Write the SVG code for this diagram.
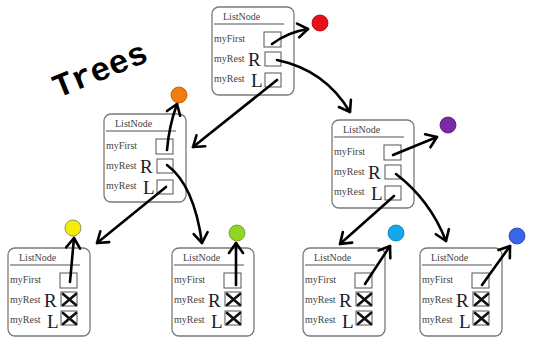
<svg xmlns="http://www.w3.org/2000/svg" width="533" height="337" viewBox="0 0 533 337">
<style>
.frame{fill:#fff;stroke:#7a7a7a;stroke-width:1.3}
.sep{stroke:#8a8a8a;stroke-width:1.6}
.cell{fill:#fff;stroke:#555;stroke-width:1}
.t{fill:#444;font-size:10px}
.big{fill:#1a1a2a;font-size:19px}
.x{stroke:#111;stroke-width:2.6;stroke-linecap:round}
.conn{fill:none;stroke:#000;stroke-width:2.6;stroke-linecap:round}
.dot{stroke-width:0.8}
</style>
<defs>
<marker id="ah" markerUnits="userSpaceOnUse" markerWidth="20" markerHeight="20" viewBox="-12 -10 14 20" refX="0" refY="0" orient="auto">
<path d="M-10,-7 L0,0 L-10,7" fill="none" stroke="#000" stroke-width="2.6" stroke-linecap="round" stroke-linejoin="round"/>
</marker>
<g id="body" font-family="'Liberation Serif', 'Times New Roman', serif">
<rect class="frame" x="0" y="0" width="82" height="88" rx="7"/>
<line class="sep" x1="2" y1="17" x2="72" y2="17"/>
<text class="t" x="11" y="13" font-family="Liberation Serif, serif">ListNode</text>
<text class="t" x="2" y="35" font-family="Liberation Serif, serif">myFirst</text>
<text class="t" x="2" y="55" font-family="Liberation Serif, serif">myRest</text>
<text class="big" x="36" y="59" font-family="Liberation Serif, serif">R</text>
<text class="t" x="2" y="75" font-family="Liberation Serif, serif">myRest</text>
<text class="big" x="39" y="80" font-family="Liberation Serif, serif">L</text>
<rect class="cell" x="52" y="25" width="17" height="15"/>
</g>
<g id="inner">
<rect class="cell" x="53" y="45" width="16" height="14"/>
<rect class="cell" x="53" y="66" width="16" height="14"/>
</g>
<g id="leaf">
<rect class="cell" x="53" y="44" width="16" height="14"/>
<line class="x" x1="55" y1="46" x2="68" y2="57"/>
<line class="x" x1="68" y1="46" x2="55" y2="57"/>
<rect class="cell" x="53" y="63" width="16" height="14"/>
<line class="x" x1="55" y1="65" x2="68" y2="76"/>
<line class="x" x1="68" y1="65" x2="55" y2="76"/>
</g>
</defs>

<text x="0" y="0" transform="translate(58,98) rotate(-22)" font-family="Liberation Mono, monospace" font-weight="bold" font-size="33" fill="#000">Trees</text>

<g id="node-root" transform="translate(212,7)"><use href="#body"/><use href="#inner"/></g>
<g id="node-midleft" transform="translate(104,114)"><use href="#body"/><use href="#inner"/></g>
<g id="node-midright" transform="translate(332,120)"><use href="#body"/><use href="#inner"/></g>
<g id="node-leaf1" transform="translate(8,248)"><use href="#body"/><use href="#leaf"/></g>
<g id="node-leaf2" transform="translate(172,248)"><use href="#body"/><use href="#leaf"/></g>
<g id="node-leaf3" transform="translate(303,248)"><use href="#body"/><use href="#leaf"/></g>
<g id="node-leaf4" transform="translate(420,248)"><use href="#body"/><use href="#leaf"/></g>

<g id="val-red"><circle class="dot" cx="320" cy="23" r="8" fill="#e8101c" stroke="#a00"/></g>
<g id="val-orange"><circle class="dot" cx="179" cy="95" r="8" fill="#f07c12" stroke="#b05a00"/></g>
<g id="val-purple"><circle class="dot" cx="448" cy="125" r="8" fill="#7a2aa6" stroke="#501878"/></g>
<g id="val-yellow"><circle class="dot" cx="73" cy="228" r="8" fill="#f6ee00" stroke="#777"/></g>
<g id="val-green"><circle class="dot" cx="237" cy="233" r="8" fill="#90d424" stroke="#6a9a20"/></g>
<g id="val-cyan"><circle class="dot" cx="396" cy="233" r="8" fill="#12a8ea" stroke="#0a78b0"/></g>
<g id="val-blue"><circle class="dot" cx="517" cy="236" r="8" fill="#3a64ea" stroke="#2040a0"/></g>

<g id="connectors">
<path class="conn" marker-end="url(#ah)" d="M272,44 Q288,32 308,29"/>
<path class="conn" marker-end="url(#ah)" d="M277,60 Q325,70 350,112"/>
<path class="conn" marker-end="url(#ah)" d="M277,80 L193,147"/>
<path class="conn" marker-end="url(#ah)" d="M167,150 Q169,126 177,104"/>
<path class="conn" marker-end="url(#ah)" d="M166,187 L97,243"/>
<path class="conn" marker-end="url(#ah)" d="M167,165 Q194,185 202,243"/>
<path class="conn" marker-end="url(#ah)" d="M393,155 L437,137"/>
<path class="conn" marker-end="url(#ah)" d="M394,196 L340,244"/>
<path class="conn" marker-end="url(#ah)" d="M396,174 Q430,200 446,241"/>
<path class="conn" marker-end="url(#ah)" d="M70,282 L74,238"/>
<path class="conn" marker-end="url(#ah)" d="M236,285 L236,243"/>
<path class="conn" marker-end="url(#ah)" d="M365,284 L390,246"/>
<path class="conn" marker-end="url(#ah)" d="M482,285 L510,246"/>
</g>
</svg>
